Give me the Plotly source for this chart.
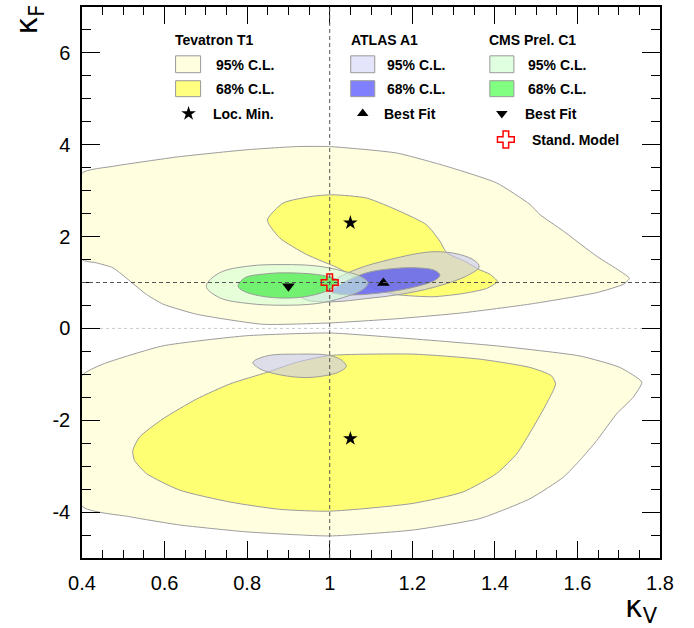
import plotly.graph_objects as go

# ---------------- data ----------------
x_tick_vals = [0.4, 0.6, 0.8, 1.0, 1.2, 1.4, 1.6, 1.8]
x_tick_text = ["0.4", "0.6", "0.8", "1", "1.2", "1.4", "1.6", "1.8"]
y_tick_vals = [-4, -2, 0, 2, 4, 6]
y_tick_text = ["-4", "-2", "0", "2", "4", "6"]

# Tevatron T1 95% C.L. (upper island)
tev95_up_x = [0.40, 0.475, 0.636, 0.798, 0.919, 1.0, 1.162, 1.283, 1.404, 1.485, 1.509, 1.566, 1.647,
              1.703, 1.726, 1.711, 1.647, 1.485, 1.323, 1.162, 1.0, 0.838, 0.677, 0.596, 0.556, 0.475,
              0.434, 0.40, 0.40]
tev95_up_y = [3.38, 3.53, 3.74, 3.89, 3.96, 3.96, 3.82, 3.53, 3.17, 2.70, 2.48, 2.12, 1.57,
              1.25, 1.09, 0.96, 0.78, 0.53, 0.34, 0.21, 0.12, 0.09, 0.31, 0.53, 0.74, 1.32,
              1.43, 1.50, 3.38]
# Tevatron T1 95% C.L. (lower island)
tev95_lo_x = [0.40, 0.45, 0.596, 0.798, 1.0, 1.162, 1.404, 1.606, 1.703, 1.756, 1.735, 1.695, 1.647,
              1.606, 1.566, 1.485, 1.364, 1.202, 1.0, 0.798, 0.636, 0.515, 0.40, 0.40]
tev95_lo_y = [-1.03, -0.78, -0.38, -0.16, -0.10, -0.20, -0.38, -0.60, -0.85, -1.17, -1.50, -1.86, -2.44,
              -2.87, -3.24, -3.71, -4.14, -4.39, -4.52, -4.43, -4.28, -4.10, -3.87, -1.03]
# Tevatron T1 68% C.L.
tev68_up_x = [0.849, 0.887, 0.96, 1.008, 1.089, 1.170, 1.234, 1.267, 1.283, 1.33, 1.36, 1.388, 1.406,
              1.38, 1.323, 1.25, 1.16, 1.10, 1.06, 1.024, 0.944, 0.879, 0.849]
tev68_up_y = [2.36, 2.73, 2.88, 2.91, 2.84, 2.55, 2.26, 1.90, 1.65, 1.45, 1.29, 1.18, 1.02,
              0.87, 0.76, 0.69, 0.74, 0.90, 1.10, 1.30, 1.61, 1.97, 2.36]
tev68_lo_x = [0.814, 0.847, 0.919, 1.0, 1.202, 1.364, 1.485, 1.537, 1.547, 1.525, 1.493, 1.453, 1.404,
              1.323, 1.202, 1.0, 0.879, 0.758, 0.636, 0.556, 0.527, 0.523, 0.539, 0.596, 0.677, 0.758, 0.814]
tev68_lo_y = [-1.05, -0.96, -0.74, -0.59, -0.56, -0.67, -0.85, -1.03, -1.21, -1.64, -2.15, -2.73, -3.16,
              -3.56, -3.81, -3.98, -3.94, -3.78, -3.52, -3.16, -2.87, -2.66, -2.37, -1.97, -1.54, -1.21, -1.05]
tev_locmin_x = [1.05, 1.05]
tev_locmin_y = [2.30, -2.40]

# ATLAS A1
atl95_up_x = [0.931, 0.96, 1.0, 1.065, 1.145, 1.25, 1.315, 1.352, 1.362, 1.331, 1.25, 1.17, 1.089, 1.008, 0.944, 0.931]
atl95_up_y = [0.70, 0.85, 1.02, 1.29, 1.50, 1.67, 1.61, 1.47, 1.34, 1.14, 0.89, 0.74, 0.65, 0.58, 0.62, 0.70]
atl95_lo_x = [0.814, 0.847, 0.919, 1.0, 1.03, 1.04, 1.024, 1.0, 0.944, 0.879, 0.831, 0.814]
atl95_lo_y = [-0.74, -0.60, -0.56, -0.59, -0.70, -0.83, -0.94, -1.01, -1.07, -1.01, -0.88, -0.74]
atl68_x = [1.004, 1.03, 1.089, 1.15, 1.21, 1.255, 1.267, 1.255, 1.20, 1.13, 1.06, 1.02, 1.004]
atl68_y = [0.80, 0.98, 1.21, 1.30, 1.32, 1.26, 1.16, 1.05, 0.89, 0.78, 0.73, 0.75, 0.80]
atl_best_x = [1.13]
atl_best_y = [0.99]

# CMS Prel. C1
cms95_x = [0.701, 0.733, 0.806, 0.887, 0.968, 1.032, 1.073, 1.093, 1.081, 1.032, 0.968, 0.887, 0.806, 0.733, 0.701]
cms95_y = [0.92, 1.21, 1.36, 1.39, 1.36, 1.25, 1.14, 0.995, 0.85, 0.67, 0.54, 0.505, 0.54, 0.67, 0.92]
cms68_x = [0.778, 0.794, 0.847, 0.894, 0.968, 1.008, 1.02, 1.0, 0.952, 0.895, 0.830, 0.79, 0.778]
cms68_y = [0.92, 1.10, 1.19, 1.21, 1.175, 1.10, 1.02, 0.85, 0.71, 0.66, 0.71, 0.82, 0.92]
cms_best_x = [0.90]
cms_best_y = [0.92]

# Standard model
sm_x = [1.0]
sm_y = [1.0]

# legend entries
leg_titles = ["Tevatron T1", "ATLAS A1", "CMS Prel. C1"]
leg_cl_labels = ["95% C.L.", "68% C.L."]
leg_marker_labels = ["Loc. Min.", "Best Fit", "Best Fit"]
leg_sm_label = "Stand. Model"

# ---------------- styles ----------------
EDGE = "#9c9c9c"
FONT = "Liberation Sans, Arial, sans-serif"
col_fill = {
    "tev95": "#ffffe0", "tev68": "#ffff73",
    "atl95": "rgba(200,200,240,0.6)", "atl68": "rgba(100,100,238,0.85)",
    "cms95": "rgba(210,255,210,0.55)", "cms68": "rgba(100,240,100,0.9)",
}
col_box = {
    "tev95": "#ffffe0", "tev68": "#ffff80",
    "atl95": "#e4e4fa", "atl68": "#8080ff",
    "cms95": "#e0ffe0", "cms68": "#80ff80",
}

fig = go.Figure()


def region(xs, ys, fill, smooth=0.8):
    fig.add_trace(go.Scatter(
        x=xs, y=ys, mode="lines", fill="toself", fillcolor=fill,
        line=dict(color=EDGE, width=1, shape="spline", smoothing=smooth),
        hoverinfo="skip", showlegend=False))


region(tev95_up_x, tev95_up_y, col_fill["tev95"], 0.5)
region(tev95_lo_x, tev95_lo_y, col_fill["tev95"], 0.5)
region(tev68_up_x, tev68_up_y, col_fill["tev68"], 0.6)
region(tev68_lo_x, tev68_lo_y, col_fill["tev68"], 0.6)
region(atl95_up_x, atl95_up_y, col_fill["atl95"], 1.0)
region(atl95_lo_x, atl95_lo_y, col_fill["atl95"], 1.0)
region(atl68_x, atl68_y, col_fill["atl68"], 1.0)
region(cms95_x, cms95_y, col_fill["cms95"], 1.0)
region(cms68_x, cms68_y, col_fill["cms68"], 1.0)

# markers
fig.add_trace(go.Scatter(x=tev_locmin_x, y=tev_locmin_y, mode="markers",
                         marker=dict(symbol="star", size=11, color="black"),
                         showlegend=False, hoverinfo="skip"))
fig.add_trace(go.Scatter(x=atl_best_x, y=atl_best_y, mode="markers",
                         marker=dict(symbol="triangle-up", size=11, color="black"),
                         showlegend=False, hoverinfo="skip"))
fig.add_trace(go.Scatter(x=cms_best_x, y=cms_best_y, mode="markers",
                         marker=dict(symbol="triangle-down", size=11, color="black"),
                         showlegend=False, hoverinfo="skip"))
fig.add_trace(go.Scatter(x=sm_x, y=sm_y, mode="markers",
                         marker=dict(symbol="cross-open", size=14, color="red", line=dict(width=1.5, color="red")),
                         showlegend=False, hoverinfo="skip"))

# reference lines
fig.add_shape(type="line", x0=1, x1=1, y0=-5, y1=7, xref="x", yref="y", layer="above",
              line=dict(color="#555555", width=1, dash="4px,3px"))
fig.add_shape(type="line", x0=0.4, x1=1.8, y0=1, y1=1, xref="x", yref="y", layer="above",
              line=dict(color="#555555", width=1, dash="4px,3px"))
fig.add_shape(type="line", x0=0.4, x1=1.8, y0=0, y1=0, xref="x", yref="y", layer="below",
              line=dict(color="#c8c8c8", width=1, dash="dot"))

# ---------------- custom legend (paper-like overlay axes) ----------------
col_title_x = [0.1567, 0.4615, 0.7004]
col_box_x = [(0.1619, 0.2052), (0.4649, 0.5065), (0.7056, 0.7472)]
col_text_x = [0.2277, 0.5238, 0.7680]
col_mark_x = [0.1844, 0.4857, 0.7264]
col_marktext_x = [0.2225, 0.5186, 0.7628]
keys = [("tev95", "tev68"), ("atl95", "atl68"), ("cms95", "cms68")]
row_title_y = 0.9403
row_box_y = [(0.8807, 0.9114), (0.8373, 0.8662)]
row_text_y = [0.8951, 0.8517]
row_mark_y = 0.8065
row_sm_y = 0.7595

for i in range(3):
    fig.add_annotation(x=col_title_x[i], y=row_title_y, xref="paper", yref="paper",
                       text="<b>%s</b>" % leg_titles[i], showarrow=False,
                       xanchor="left", yanchor="middle", font=dict(family=FONT, size=14, color="black"))
    for j in range(2):
        fig.add_shape(type="rect", xref="paper", yref="paper",
                      x0=col_box_x[i][0], x1=col_box_x[i][1], y0=row_box_y[j][0], y1=row_box_y[j][1],
                      fillcolor=col_box[keys[i][j]], line=dict(color="#999999", width=1))
        fig.add_annotation(x=col_text_x[i], y=row_text_y[j], xref="paper", yref="paper",
                           text="<b>%s</b>" % leg_cl_labels[j], showarrow=False,
                           xanchor="left", yanchor="middle", font=dict(family=FONT, size=14, color="black"))
    fig.add_annotation(x=col_marktext_x[i], y=row_mark_y, xref="paper", yref="paper",
                       text="<b>%s</b>" % leg_marker_labels[i], showarrow=False,
                       xanchor="left", yanchor="middle", font=dict(family=FONT, size=14, color="black"))
fig.add_annotation(x=0.7749, y=row_sm_y, xref="paper", yref="paper",
                   text="<b>%s</b>" % leg_sm_label, showarrow=False,
                   xanchor="left", yanchor="middle", font=dict(family=FONT, size=14, color="black"))

leg_symbols = ["star", "triangle-up", "triangle-down"]
for i in range(3):
    fig.add_trace(go.Scatter(x=[col_mark_x[i]], y=[row_mark_y], xaxis="x2", yaxis="y2", mode="markers",
                             marker=dict(symbol=leg_symbols[i], size=11 if i == 0 else 10, color="black"),
                             showlegend=False, hoverinfo="skip"))
fig.add_trace(go.Scatter(x=[0.7333], y=[row_sm_y], xaxis="x2", yaxis="y2", mode="markers",
                         marker=dict(symbol="cross-open", size=14, color="red", line=dict(width=1.5, color="red")),
                         showlegend=False, hoverinfo="skip"))

# axis titles
fig.add_annotation(x=1.0, y=-0.13, xref="paper", yref="paper", text="κ<sub>V</sub>",
                   showarrow=False, xanchor="right", yanchor="bottom",
                   font=dict(family="DejaVu Sans, sans-serif", size=30, color="black"))
fig.add_annotation(x=-0.092, y=1.008, xref="paper", yref="paper", text="κ<sub>F</sub>",
                   showarrow=False, xanchor="center", yanchor="top", textangle=-90,
                   font=dict(family="DejaVu Sans, sans-serif", size=30, color="black"))

axis_common = dict(showgrid=False, zeroline=False, showline=True, linecolor="black", linewidth=1.5,
                   mirror="ticks", ticks="inside", tickcolor="black", tickwidth=1,
                   tickfont=dict(family=FONT, size=20, color="black"))
fig.update_layout(
    width=694, height=628,
    margin=dict(l=82, r=34, t=5, b=70),
    paper_bgcolor="white", plot_bgcolor="white",
    showlegend=False,
    xaxis=dict(range=[0.4, 1.8], tickmode="array", tickvals=x_tick_vals, ticktext=x_tick_text,
               ticklen=17, ticklabelstandoff=6,
               minor=dict(tick0=0.4, dtick=0.05, ticklen=8, ticks="inside", tickcolor="black", tickwidth=1),
               **axis_common),
    yaxis=dict(range=[-5, 7], tickmode="array", tickvals=y_tick_vals, ticktext=y_tick_text,
               ticklen=18, ticklabelstandoff=6,
               minor=dict(tick0=0, dtick=0.5, ticklen=9, ticks="inside", tickcolor="black", tickwidth=1),
               **axis_common),
    xaxis2=dict(range=[0, 1], overlaying="x", visible=False),
    yaxis2=dict(range=[0, 1], overlaying="y", visible=False),
)

fig.write_html("out.html", config={"displayModeBar": False},
               post_script="document.body.style.margin='0px';document.body.style.padding='0px';")
